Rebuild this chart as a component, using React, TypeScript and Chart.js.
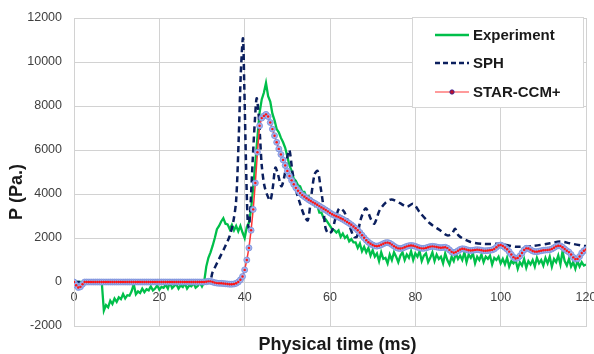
import React, { useEffect, useRef } from "react";
import { Chart, registerables } from "chart.js";

Chart.register(...registerables);

const FONT = '"Liberation Sans", Arial, Helvetica, sans-serif';

// Axis ticks
const X_MIN = 0;
const X_MAX = 120;
const X_STEP = 20;
const Y_MIN = -2000;
const Y_MAX = 12000;
const Y_STEP = 2000;

// Experiment: sampled every 0.5 ms from 0 ms
const EXP_T0 = 0;
const EXP_DT = 0.5;
const EXP_P = [
  0, 0, 0, 0, 0, 0, 0, 0, 0, 0, 0, 0, 0, 0, -1300, -1050, -1150, -850, -1000, -750,
  -900, -700, -780, -550, -750, -600, -620, -420, -100, -560, -430, -500, -300, -460, -330, -380, -200, -380, -300, -150,
  -350, -220, -260, -120, -300, 0, -280, -180, -100, -300, -150, -230, -60, -300, -160, -200, -40, -260, -180, -20,
  -200, 0, 700, 1100, 1350, 1650, 2000, 2400, 2550, 2750, 2900, 2650, 2620, 2400, 2600, 2350, 2550, 2300, 2550, 2250,
  2000, 2500, 2700, 3300, 4300, 5400, 6600, 7700, 8300, 8600, 9050, 8450, 8200, 7650, 7350, 6950, 6800, 6550, 6350, 6100,
  5700, 5300, 5050, 4700, 4600, 4400, 4350, 4100, 4100, 3850, 3900, 3650, 3700, 3450, 3500, 3150, 3150, 2900, 2850, 2700,
  2550, 2400, 2350, 2250, 2350, 2050, 2200, 2000, 2100, 1850, 1950, 1800, 1800, 1550, 1750, 1400, 1600, 1350, 1550, 1200,
  1450, 1150, 1300, 950, 1350, 1050, 1100, 850, 1250, 1000, 1350, 1150, 900, 1200, 1350, 1000, 1250, 1100, 1400, 1000,
  1300, 1150, 1400, 950, 1200, 1300, 900, 1100, 1350, 950, 1250, 1050, 1150, 850, 1300, 1000, 800, 1150, 950, 1300,
  1050, 1200, 1000, 1350, 900, 1250, 1100, 1300, 850, 1150, 1000, 1250, 900, 1150, 1050, 1200, 800, 1100, 1000, 1150,
  850, 1050, 800, 1100, 700, 950, 850, 1000, 600, 900, 750, 1050, 650, 950, 800, 1000, 700, 1100, 850, 1000,
  750, 1100, 850, 1150, 700, 1050, 900, 1200, 800, 1400, 950, 750, 1050, 700, 900, 600, 950, 700, 900, 750, 800,
];

// SPH: irregular samples
const SPH_T = [
  0, 31.5, 32.5, 34, 35.5, 36.5, 37.3, 38, 38.6, 39.1, 39.6, 39.9, 40.3, 40.7, 41, 41.4, 41.9, 42.4, 42.8, 43.2,
  43.6, 44, 44.6, 45.3, 46, 46.6, 47.2, 47.8, 48.6, 49.3, 50.1, 50.5, 51.2, 52, 53, 54, 54.8, 55.6, 56.4, 57.1,
  57.8, 58.4, 58.9, 59.6, 60.4, 61.3, 62.2, 63.3, 64.5, 65.6, 66.3, 67.2, 68.4, 69.6, 70.4, 71.6, 73, 74.4, 76.4, 78,
  79.5, 81.1, 83.4, 85.8, 87.5, 88.6, 89.3, 90.2, 92.8, 95.9, 99.8, 103.7, 107.6, 111.6, 113.9, 116.2, 119.4, 120,
];
const SPH_P = [
  0, 0, 450, 1050, 1650, 2100, 2700, 3700, 6500, 9500, 11080, 9000, 5500, 2800, 2450, 3600, 5600, 7360, 8350, 7800,
  6600, 5300, 4400, 3950, 3700, 4300, 5200, 4900, 4350, 4800, 5800, 6000, 5000, 4200, 3550, 3000, 2800, 3900, 4900, 5050,
  4300, 3500, 2500, 2210, 2300, 2900, 3350, 3200, 2600, 2050, 2060, 2850, 3350, 2850, 2650, 3250, 3600, 3750, 3580, 3420,
  3550, 3150, 2670, 2350, 2120, 2200, 2420, 2100, 1830, 1730, 1730, 1600, 1640, 1760, 1840, 1760, 1640, 1640,
];

// STAR-CCM+: sampled every 0.5 ms from 0 ms
const STAR_T0 = 0;
const STAR_DT = 0.5;
const STAR_P = [
  0, -150, -250, -220, -100, 0, 0, 0, 0, 0, 0, 0, 0, 0, 0, 0, 0, 0, 0, 0,
  0, 0, 0, 0, 0, 0, 0, 0, 0, 0, 0, 0, 0, 0, 0, 0, 0, 0, 0, 0,
  0, 0, 0, 0, 0, 0, 0, 0, 0, 0, 0, 0, 0, 0, 0, 0, 0, 0, 0, 0,
  0, 0, 10, 30, 30, 0, -30, -50, -60, -60, -70, -80, -90, -100, -100, -90, -60, 0, 100, 250,
  550, 1000, 1550, 2350, 3300, 4500, 5900, 7100, 7450, 7550, 7620, 7520, 7250, 6950, 6650, 6350, 6050, 5800, 5550, 5300,
  5050, 4820, 4620, 4440, 4280, 4150, 4040, 3950, 3880, 3810, 3740, 3680, 3620, 3570, 3510, 3450, 3390, 3330, 3270, 3210,
  3140, 3080, 3030, 2990, 2950, 2900, 2850, 2790, 2730, 2670, 2600, 2520, 2440, 2350, 2250, 2130, 2010, 1900, 1810, 1740,
  1680, 1640, 1630, 1650, 1690, 1740, 1780, 1790, 1760, 1700, 1630, 1570, 1530, 1520, 1540, 1580, 1620, 1650, 1660, 1650,
  1620, 1580, 1550, 1530, 1530, 1550, 1580, 1610, 1620, 1610, 1590, 1570, 1560, 1570, 1580, 1540, 1460, 1370, 1330, 1360,
  1420, 1480, 1510, 1500, 1470, 1440, 1430, 1440, 1460, 1470, 1460, 1440, 1420, 1420, 1430, 1440, 1460, 1500, 1580, 1660,
  1680, 1640, 1570, 1490, 1380, 1250, 1130, 1070, 1090, 1180, 1320, 1460, 1530, 1520, 1470, 1410, 1380, 1380, 1400, 1420,
  1440, 1450, 1460, 1470, 1500, 1560, 1620, 1650, 1640, 1580, 1500, 1420, 1360, 1250, 1120, 1040, 1050, 1160, 1320, 1420, 1480,
];

const SERIES_NAMES = ["Experiment", "SPH", "STAR-CCM+"];
const X_TITLE = "Physical time (ms)";
const Y_TITLE = "P (Pa.)";

const GREEN = "#00bf4a";
const NAVY = "#0b1f5e";
const RED_LINE = "#ff3535";
const RED_DOT = "#ff1414";
const HALO_FILL = "#a3b3ec";
const HALO_EDGE = "#7a8fdc";
const GRID = "#d2d2d2";

const legendPlugin = {
  id: "boxLegend",
  afterDraw(chart: any) {
    const ctx = chart.ctx as CanvasRenderingContext2D;
    ctx.save();
    const bx = 412, by = 17, bw = 171, bh = 90;
    ctx.fillStyle = "#ffffff";
    ctx.fillRect(bx, by, bw, bh);
    ctx.strokeStyle = "#d6d6d6";
    ctx.lineWidth = 1;
    ctx.strokeRect(bx + 0.5, by + 0.5, bw, bh);
    const rows = [35, 63, 92];
    const x1 = 435, x2 = 469;
    ctx.strokeStyle = GREEN;
    ctx.lineWidth = 2.5;
    ctx.setLineDash([]);
    ctx.beginPath();
    ctx.moveTo(x1, rows[0]);
    ctx.lineTo(x2, rows[0]);
    ctx.stroke();
    ctx.strokeStyle = NAVY;
    ctx.lineWidth = 2.5;
    ctx.setLineDash([5, 3]);
    ctx.beginPath();
    ctx.moveTo(x1, rows[1]);
    ctx.lineTo(x2, rows[1]);
    ctx.stroke();
    ctx.setLineDash([]);
    ctx.strokeStyle = "#ff7a7a";
    ctx.lineWidth = 1.5;
    ctx.beginPath();
    ctx.moveTo(x1, rows[2]);
    ctx.lineTo(x2, rows[2]);
    ctx.stroke();
    ctx.beginPath();
    ctx.arc((x1 + x2) / 2, rows[2], 2.2, 0, Math.PI * 2);
    ctx.fillStyle = "#c0102a";
    ctx.fill();
    ctx.strokeStyle = "rgba(40,40,160,0.8)";
    ctx.lineWidth = 1;
    ctx.stroke();
    ctx.fillStyle = "#1a1a1a";
    ctx.font = `bold 15px ${FONT}`;
    ctx.textBaseline = "middle";
    ctx.textAlign = "left";
    SERIES_NAMES.forEach((n, i) => ctx.fillText(n, 473, rows[i] + 1));
    ctx.restore();
  },
};

export default function App() {
  const ref = useRef<HTMLCanvasElement | null>(null);
  useEffect(() => {
    if (!ref.current) return;
    const expData = EXP_P.map((p, i) => ({ x: EXP_T0 + i * EXP_DT, y: p }));
    const sphData = SPH_T.map((t, i) => ({ x: t, y: SPH_P[i] }));
    const starData = STAR_P.map((p, i) => ({ x: STAR_T0 + i * STAR_DT, y: p }));
    const chart = new Chart(ref.current, {
      type: "line",
      data: {
        datasets: [
          {
            label: SERIES_NAMES[0],
            data: expData,
            borderColor: GREEN,
            borderWidth: 2.3,
            pointRadius: 0,
            tension: 0,
            order: 4,
          },
          {
            label: SERIES_NAMES[1],
            data: sphData,
            borderColor: NAVY,
            borderWidth: 2.5,
            borderDash: [6, 4],
            pointRadius: 0,
            tension: 0.3,
            order: 3,
          },
          {
            label: SERIES_NAMES[2],
            data: starData,
            borderColor: RED_LINE,
            borderWidth: 1.5,
            pointRadius: 3,
            pointBackgroundColor: HALO_FILL,
            pointBorderColor: HALO_EDGE,
            pointBorderWidth: 0.8,
            tension: 0,
            order: 2,
          },
          {
            label: SERIES_NAMES[2] + " markers",
            data: starData,
            showLine: false,
            pointRadius: 1.2,
            pointBackgroundColor: RED_DOT,
            pointBorderWidth: 0,
            order: 1,
          },
        ],
      },
      options: {
        responsive: false,
        animation: false,
        layout: { padding: { top: 18, right: 8, left: 0, bottom: 0 } },
        plugins: { legend: { display: false }, tooltip: { enabled: false } },
        scales: {
          x: {
            type: "linear",
            min: X_MIN,
            max: X_MAX,
            ticks: {
              stepSize: X_STEP,
              mirror: true,
              padding: 20.5,
              color: "#404040",
              font: { family: FONT, size: 12.5 },
              maxRotation: 0,
              autoSkip: false,
              callback: (v: any) => String(v),
            },
            grid: { color: GRID, drawTicks: false, lineWidth: 1 },
            border: { display: true, color: GRID },
            title: {
              display: true,
              text: "   " + X_TITLE,
              color: "#1a1a1a",
              font: { family: FONT, size: 18, weight: "bold", lineHeight: 1 },
              padding: { top: 0, bottom: 0 },
            },
            afterFit: (s: any) => {
              s.height = 28;
              s.paddingLeft = 0;
              s.paddingRight = 0;
            },
          },
          y: {
            min: Y_MIN,
            max: Y_MAX,
            ticks: {
              stepSize: Y_STEP,
              padding: 12,
              color: "#404040",
              font: { family: FONT, size: 12.5 },
              callback: (v: any) => String(v),
            },
            grid: { color: GRID, drawTicks: false, lineWidth: 1 },
            border: { display: true, color: GRID },
            title: {
              display: true,
              text: Y_TITLE + "        ",
              color: "#1a1a1a",
              font: { family: FONT, size: 18, weight: "bold", lineHeight: 1 },
              padding: { top: 8, bottom: 0 },
            },
            afterFit: (s: any) => {
              s.width = 74;
              s.paddingTop = 0;
              s.paddingBottom = 0;
            },
          },
        },
      },
      plugins: [legendPlugin],
    } as any);
    return () => chart.destroy();
  }, []);
  return (
    <div style={{ position: "absolute", left: 0, top: 0, width: 594, height: 354, background: "#fff" }}>
      <canvas ref={ref} width={594} height={354} style={{ display: "block" }} />
    </div>
  );
}
